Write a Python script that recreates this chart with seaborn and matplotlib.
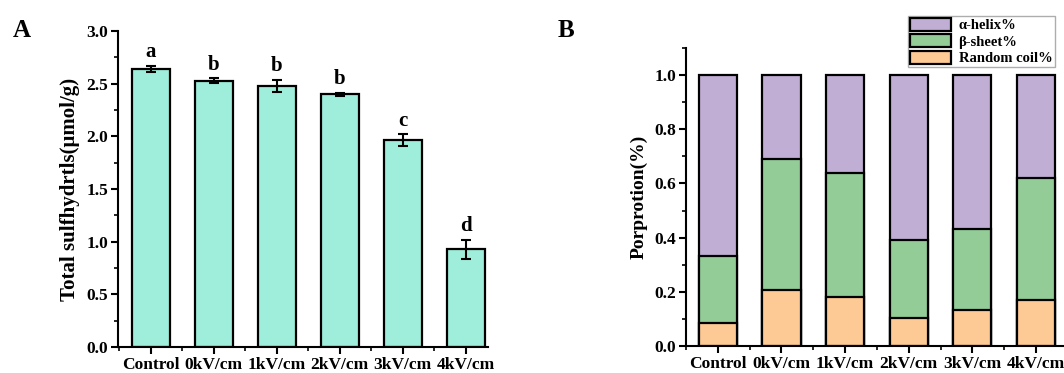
import numpy as np
import pandas as pd
import seaborn as sns
import matplotlib.pyplot as plt
from matplotlib.ticker import MultipleLocator, FixedLocator

groups = ['Control', '0kV/cm', '1kV/cm', '2kV/cm', '3kV/cm', '4kV/cm']

# panel A: total sulfhydryls
sh_mean = [2.64, 2.53, 2.48, 2.40, 1.965, 0.93]
sh_err = [0.03, 0.02, 0.055, 0.015, 0.055, 0.09]
sh_letters = ['a', 'b', 'b', 'b', 'c', 'd']

# panel B: secondary structure proportions
random_coil = [0.085, 0.208, 0.179, 0.103, 0.132, 0.169]
beta_sheet = [0.246, 0.482, 0.461, 0.290, 0.301, 0.452]
alpha_helix = [0.669, 0.310, 0.360, 0.607, 0.567, 0.379]

sns.set_style('ticks')
plt.rcParams['font.family'] = ['Liberation Serif', 'DejaVu Serif']
plt.rcParams['font.weight'] = 'bold'
plt.rcParams['axes.labelweight'] = 'bold'
plt.rcParams['text.color'] = 'black'
plt.rcParams['axes.labelcolor'] = 'black'
plt.rcParams['xtick.color'] = 'black'
plt.rcParams['ytick.color'] = 'black'

fig = plt.figure(figsize=(10.64, 3.73), dpi=100)
axA = fig.add_axes([0.1109, 0.0697, 0.3477, 0.847])
axB = fig.add_axes([0.6447, 0.0724, 0.3553, 0.799])

def style_axes(ax):
    sns.despine(ax=ax)
    for s in ['left', 'bottom']:
        ax.spines[s].set_linewidth(1.5)
        ax.spines[s].set_color('black')
    ax.tick_params(axis='both', which='major', direction='out', length=5, width=1.5,
                   labelsize=12.5, color='black', labelcolor='black', pad=2)
    ax.tick_params(axis='both', which='minor', direction='out', length=3, width=1.2, color='black')
    ax.xaxis.set_minor_locator(FixedLocator(np.arange(-0.5, 6, 1.0)))
    for lab in ax.get_xticklabels() + ax.get_yticklabels():
        lab.set_fontweight('bold')

dfA = pd.DataFrame({'group': groups, 'value': sh_mean})
sns.barplot(data=dfA, x='group', y='value', ax=axA, color='#9FEEDB', saturation=1,
            edgecolor='black', linewidth=1.6, width=0.6, errorbar=None)
axA.errorbar(np.arange(len(groups)), sh_mean, yerr=sh_err, fmt='none', ecolor='black',
             elinewidth=1.5, capsize=3.6, capthick=1.5)
for i, (m, e, t) in enumerate(zip(sh_mean, sh_err, sh_letters)):
    axA.text(i, m + e + 0.035, t, ha='center', va='bottom', fontsize=15, fontweight='bold')
axA.set_xlim(-0.52, 5.35)
axA.set_ylim(0, 3.0)
axA.yaxis.set_major_locator(MultipleLocator(0.5))
axA.yaxis.set_minor_locator(MultipleLocator(0.25))
axA.set_xlabel('')
axA.set_ylabel('Total sulfhydrtls(μmol/g)', fontsize=15, fontweight='bold', labelpad=5)
style_axes(axA)

dfB = pd.DataFrame({'group': groups, 'rc': random_coil, 'bs': beta_sheet, 'ah': alpha_helix})
dfB['top_bs'] = dfB['rc'] + dfB['bs']
dfB['top_ah'] = dfB['top_bs'] + dfB['ah']
layers = [('top_ah', '#C1AED4', 'α-helix%'),
          ('top_bs', '#93CC96', 'β-sheet%'),
          ('rc', '#FDC994', 'Random coil%')]
for col, c, lab in layers:
    sns.barplot(data=dfB, x='group', y=col, ax=axB, color=c, saturation=1,
                edgecolor='black', linewidth=1.6, width=0.6, errorbar=None, label=lab)
axB.set_xlim(-0.5, 5.44)
axB.set_ylim(0, 1.1)
axB.yaxis.set_major_locator(MultipleLocator(0.2))
axB.yaxis.set_minor_locator(MultipleLocator(0.1))
axB.set_xlabel('')
axB.set_ylabel('Porprotion(%)', fontsize=14, fontweight='bold', labelpad=5)
style_axes(axB)
leg = axB.legend(loc='upper right', bbox_to_anchor=(0.975, 1.108),
                 prop={'weight': 'bold', 'size': 10.5}, frameon=True, fancybox=False,
                 edgecolor='#999999', handlelength=2.8, handleheight=1.0,
                 borderpad=0.15, labelspacing=0.12, handletextpad=0.5, borderaxespad=0)
leg.get_frame().set_linewidth(1.0)

fig.text(0.012, 0.90, 'A', fontsize=18, fontweight='bold')
fig.text(0.524, 0.90, 'B', fontsize=18, fontweight='bold')

fig.savefig('out.png', dpi=100)
